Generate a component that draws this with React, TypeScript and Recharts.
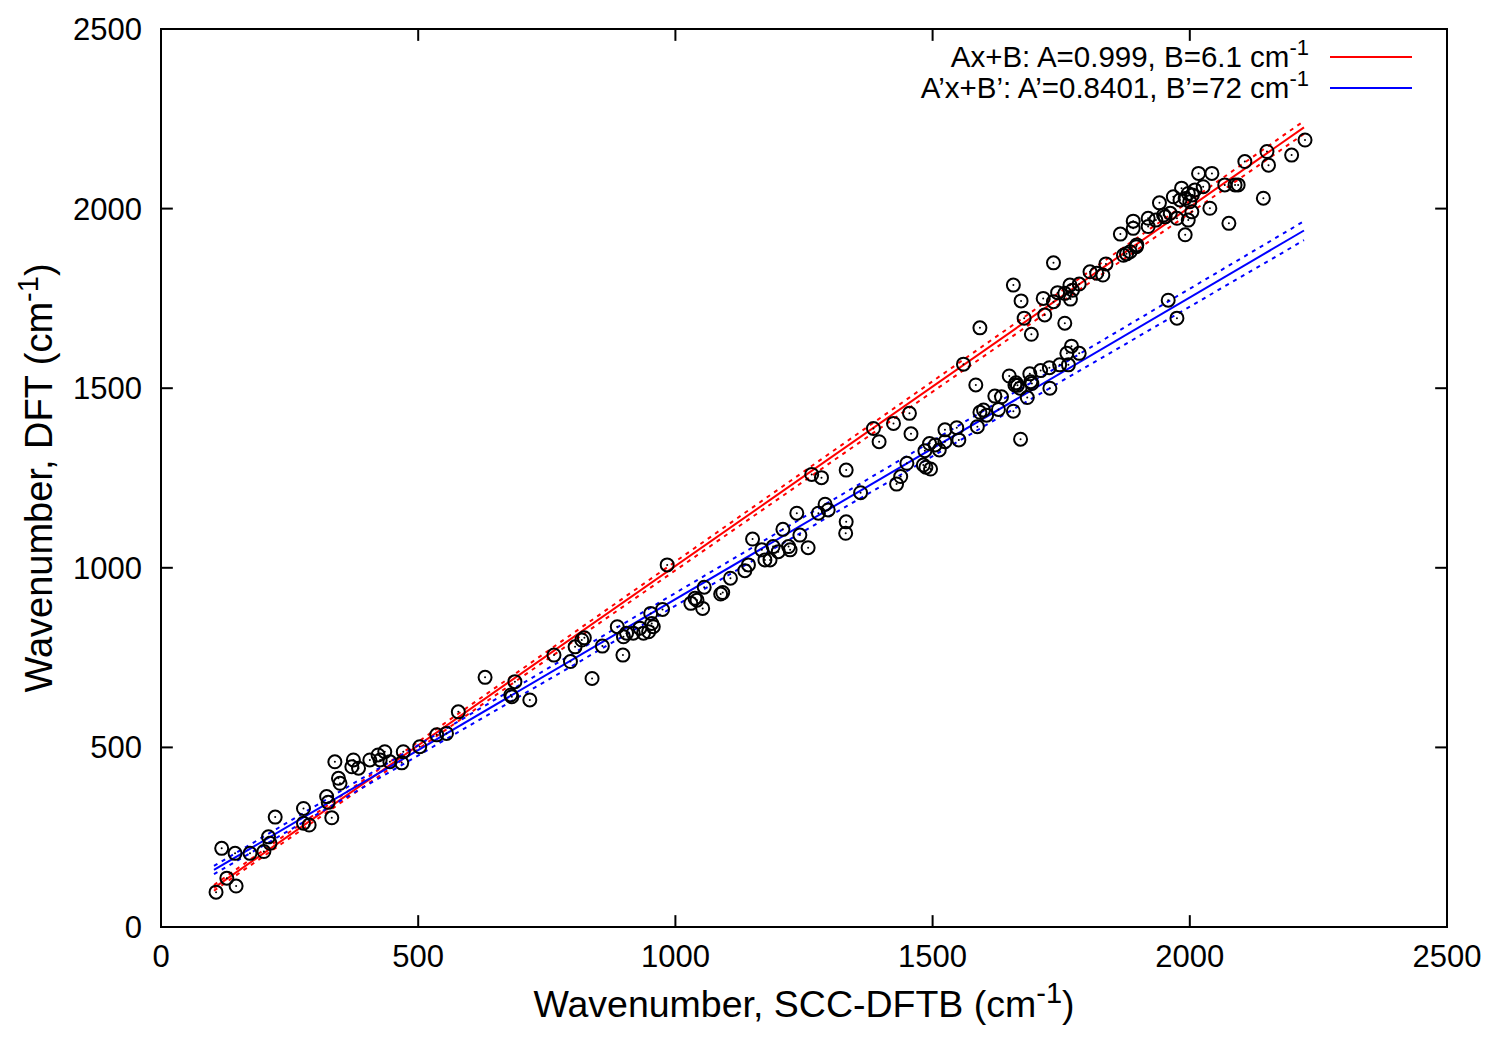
import React from "react";
import { ScatterChart, Scatter, XAxis, YAxis, Label, ReferenceLine, ReferenceArea } from "recharts";

const FONT = "'Liberation Sans', Arial, Helvetica, sans-serif";

const xTicks = [0, 500, 1000, 1500, 2000, 2500];
const yTicks = [0, 500, 1000, 1500, 2000, 2500];
const axisMax = 2500;
// inward tick length, in axis units (about 12 px on screen)
const xTickLen = 33;
const yTickLen = 23;

// [SCC-DFTB, DFT] wavenumbers in cm-1
const modes: [number, number][] = [
  [107, 97], [128, 136], [146, 114], [118, 219], [144, 205], [173, 205], [200, 210],
  [209, 251], [212, 233], [222, 306], [277, 330], [277, 289], [288, 284], [322, 363],
  [325, 347], [332, 304], [338, 460], [345, 414], [348, 400], [374, 465], [371, 446],
  [384, 442], [406, 465], [422, 479], [426, 465], [435, 488], [445, 460], [468, 457],
  [471, 488], [503, 502], [536, 535], [555, 539], [578, 599], [630, 695],
  [688, 683], [680, 646], [682, 641], [717, 632], [764, 757], [796, 739], [805, 780],
  [818, 799], [823, 805], [838, 692], [858, 782], [887, 836], [898, 757], [899, 808],
  [905, 818], [918, 818], [931, 832], [938, 818], [948, 822], [954, 845], [952, 873],
  [957, 836], [975, 884], [984, 1008], [1030, 901], [1038, 915], [1042, 910], [1053, 887],
  [1056, 946], [1088, 927], [1092, 931], [1107, 971], [1135, 992], [1142, 1008],
  [1150, 1080], [1168, 1050], [1174, 1022], [1184, 1022], [1190, 1059], [1200, 1045],
  [1209, 1107], [1220, 1059], [1223, 1050], [1242, 1091], [1258, 1056], [1236, 1152],
  [1278, 1152], [1291, 1177], [1297, 1161], [1265, 1260], [1284, 1251],
  [1332, 1272], [1360, 1209], [1332, 1128], [1331, 1096], [1385, 1388], [1396, 1351],
  [1424, 1402], [1455, 1430], [1458, 1373], [1430, 1233], [1438, 1254], [1450, 1291],
  [1482, 1286], [1487, 1280], [1496, 1275], [1485, 1326], [1494, 1346], [1505, 1342],
  [1513, 1328], [1524, 1384], [1524, 1351], [1547, 1390], [1551, 1356], [1587, 1393],
  [1592, 1433], [1605, 1425], [1599, 1439], [1621, 1478], [1634, 1476], [1628, 1441],
  [1657, 1436], [1671, 1358], [1684, 1474], [1660, 1509], [1670, 1500], [1693, 1513],
  [1728, 1500], [1584, 1509], [1560, 1567], [1649, 1534], [1662, 1515], [1665, 1508],
  [1689, 1540], [1691, 1518], [1710, 1549], [1727, 1557], [1747, 1565], [1764, 1565],
  [1761, 1597], [1770, 1617], [1785, 1597], [1958, 1745], [1975, 1695],
  [1735, 1849], [1657, 1787], [1672, 1743], [1592, 1668], [1678, 1695], [1692, 1650],
  [1715, 1750], [1718, 1704], [1735, 1741], [1743, 1766], [1757, 1681], [1757, 1764],
  [1767, 1787], [1768, 1748], [1772, 1773], [1785, 1790], [1806, 1824], [1819, 1820],
  [1831, 1815], [1837, 1846], [1865, 1929], [1871, 1870], [1877, 1874], [1884, 1880],
  [1896, 1894], [1897, 1899], [1890, 1965], [1890, 1945], [1919, 1973], [1919, 1950],
  [1934, 1968], [1949, 1982], [1952, 1977], [1962, 1987], [1975, 1973], [1968, 2033],
  [1941, 2016], [1984, 2057], [1981, 2024], [1997, 2042], [2005, 2038], [2010, 2052],
  [2026, 2061], [2000, 2019], [2004, 1991], [1997, 1968], [1991, 1927], [2039, 2001],
  [2017, 2098], [2043, 2098], [2068, 2066], [2088, 2066], [2094, 2066], [2076, 1959],
  [2107, 2131], [2143, 2029], [2150, 2159], [2153, 2121], [2198, 2149], [2224, 2191],
  [1991, 2028],
];

// fit lines (end points) and their bands
const fitAB: [number, number][] = [[103, 109], [2222, 2226]];
const fitABUpper: [number, number][] = [[103, 117], [2222, 2244]];
const fitABLower: [number, number][] = [[103, 101], [2222, 2208]];
const fitA2B2: [number, number][] = [[103, 159], [2222, 1939]];
const fitA2B2Upper: [number, number][] = [[103, 170], [2222, 1965]];
const fitA2B2Lower: [number, number][] = [[103, 147], [2222, 1912]];

const legendLabels = ["Ax+B: A=0.999, B=6.1 cm", "A\u2019x+B\u2019: A\u2019=0.8401, B\u2019=72 cm"];
const legendColors = ["#ff0000", "#0000ff"];

const toXY = (arr: [number, number][]) => arr.map(([x, y]) => ({ x, y }));

const RingDot = (props: any) => {
  const { cx, cy } = props;
  if (cx == null || cy == null) return null;
  return (
    <g>
      <circle cx={cx} cy={cy} r={6.5} fill="none" stroke="#000" strokeWidth={2} />
      <circle cx={cx} cy={cy} r={1} fill="#000" />
    </g>
  );
};

const NoShape = () => null;

const XTitle = (props: any) => {
  const vb = props.viewBox;
  return (
    <text x={vb.x + vb.width / 2} y={vb.y + 90} textAnchor="middle" fontFamily={FONT} fontSize={37.5} fill="#000">
      Wavenumber, SCC-DFTB (cm
      <tspan dy={-14} fontSize={29}>-1</tspan>
      <tspan dy={14}>)</tspan>
    </text>
  );
};

const YTitle = (props: any) => {
  const vb = props.viewBox;
  const cx = vb.x - 9;
  const cy = vb.y + vb.height / 2;
  return (
    <text x={cx} y={cy} transform={`rotate(-90 ${cx} ${cy})`} textAnchor="middle" fontFamily={FONT} fontSize={38} fill="#000">
      Wavenumber, DFT (cm
      <tspan dy={-14} fontSize={29}>-1</tspan>
      <tspan dy={14}>)</tspan>
    </text>
  );
};

const lineSeries = [
  { data: fitAB, color: "#ff0000", dash: undefined },
  { data: fitABUpper, color: "#ff0000", dash: "4 5" },
  { data: fitABLower, color: "#ff0000", dash: "4 5" },
  { data: fitA2B2, color: "#0000ff", dash: undefined },
  { data: fitA2B2Upper, color: "#0000ff", dash: "4 5" },
  { data: fitA2B2Lower, color: "#0000ff", dash: "4 5" },
];

const border = { stroke: "#000", strokeWidth: 2 };

export default function App() {
  const tickStyle = { fontFamily: FONT, fontSize: 31, fill: "#000" };
  return (
    <div style={{ position: "absolute", left: 0, top: 0, width: 1500, height: 1050, background: "#fff" }}>
      <ScatterChart width={1500} height={1050} margin={{ top: 29, right: 53, bottom: 63, left: 61 }}>
        <XAxis
          xAxisId="b"
          type="number"
          dataKey="x"
          domain={[0, axisMax]}
          ticks={xTicks}
          height={60}
          tickSize={-12}
          tickMargin={30}
          tick={tickStyle}
          axisLine={border}
          tickLine={false}
        >
          <Label content={XTitle} />
        </XAxis>
        <YAxis
          yAxisId="l"
          type="number"
          dataKey="y"
          domain={[0, axisMax]}
          ticks={yTicks}
          width={100}
          tickSize={-12}
          tickMargin={31}
          tick={tickStyle}
          axisLine={border}
          tickLine={false}
        >
          <Label content={YTitle} />
        </YAxis>
        <ReferenceArea
          xAxisId="b"
          yAxisId="l"
          x1={0}
          x2={axisMax}
          y1={0}
          y2={axisMax}
          fill="none"
          fillOpacity={0}
          stroke="#000"
          strokeWidth={2}
          strokeOpacity={1}
        />
        {xTicks.map((t) => (
          <ReferenceLine key={`xb${t}`} xAxisId="b" yAxisId="l" segment={[{ x: t, y: 0 }, { x: t, y: xTickLen }]} {...border} />
        ))}
        {xTicks.map((t) => (
          <ReferenceLine key={`xt${t}`} xAxisId="b" yAxisId="l" segment={[{ x: t, y: axisMax }, { x: t, y: axisMax - xTickLen }]} {...border} />
        ))}
        {yTicks.map((t) => (
          <ReferenceLine key={`yl${t}`} xAxisId="b" yAxisId="l" segment={[{ x: 0, y: t }, { x: yTickLen, y: t }]} {...border} />
        ))}
        {yTicks.map((t) => (
          <ReferenceLine key={`yr${t}`} xAxisId="b" yAxisId="l" segment={[{ x: axisMax, y: t }, { x: axisMax - yTickLen, y: t }]} {...border} />
        ))}
        {lineSeries.map((s, i) => (
          <Scatter
            key={i}
            xAxisId="b"
            yAxisId="l"
            data={toXY(s.data)}
            line={{ stroke: s.color, strokeWidth: 2, strokeDasharray: s.dash }}
            lineType="joint"
            shape={NoShape}
            isAnimationActive={false}
          />
        ))}
        <Scatter xAxisId="b" yAxisId="l" data={toXY(modes)} shape={RingDot} isAnimationActive={false} />
      </ScatterChart>
      <svg width={1500} height={1050} style={{ position: "absolute", left: 0, top: 0, pointerEvents: "none" }}>
        {legendLabels.map((label, i) => (
          <g key={i}>
            <text x={1309} y={67 + i * 31} textAnchor="end" fontFamily={FONT} fontSize={29.5} fill="#000">
              {label}
              <tspan dy={-12} fontSize={22}>-1</tspan>
            </text>
            <line x1={1330} x2={1412} y1={57 + i * 31} y2={57 + i * 31} stroke={legendColors[i]} strokeWidth={2} />
          </g>
        ))}
      </svg>
    </div>
  );
}
